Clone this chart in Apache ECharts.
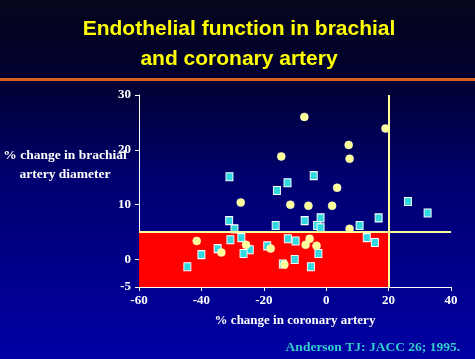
<!DOCTYPE html>
<html><head><meta charset="utf-8">
<script src="https://cdn.jsdelivr.net/npm/echarts@6/dist/echarts.min.js"></script>
<style>html,body{margin:0;padding:0;background:#000030;}#c{width:475px;height:359px;}</style>
</head><body><div id="c"></div>
<script>
// Data
var titleLines = ['Endothelial function in brachial', 'and coronary artery'];
var xTicks = [-60, -40, -20, 0, 20, 40];
var yTicks = [-5, 0, 10, 20, 30];
// yellow circles: [% change coronary, % change brachial]
var circles = [
  [-7, 26.0], [19, 23.9], [-14.4, 18.8], [7.2, 20.9], [7.5, 18.4], [3.5, 13.1],
  [-11.5, 10.0], [-5.7, 9.8], [1.9, 9.8], [7.5, 5.6], [-27.4, 10.4],
  [-41.5, 3.4], [-33.6, 1.3], [-25.7, 2.7], [-17.8, 2.0], [-5.3, 3.8],
  [-6.6, 2.7], [-3.1, 2.5], [-13.4, -0.9]
];
// cyan squares
var squares = [
  [-31.0, 15.1], [-31.1, 7.1], [-29.4, 5.6], [-30.7, 3.6], [-27.2, 4.0], [-34.8, 2.0],
  [-24.5, 1.8], [-40.0, 0.9], [-26.5, 1.1], [-44.5, -1.3], [-18.9, 2.5], [-16.2, 6.2],
  [-15.8, 12.6], [-12.4, 14.0], [-12.3, 3.8], [-9.8, 3.4], [-13.9, -0.8], [-10.1, 0.0],
  [-4.0, 15.3], [26.2, 10.6], [32.5, 8.5], [-1.8, 7.6], [-6.9, 7.1], [-2.9, 6.2],
  [-1.8, 5.8], [10.7, 6.2], [16.8, 7.6], [13.0, 4.0], [15.6, 3.1], [-2.5, 1.1], [-4.9, -1.3]
];
var normalBox = {x0: -60, x1: 20, y0: -5, y1: 5};
var xName = '% change in coronary artery';
var yName = ['% change in brachial', 'artery diameter'];
var citation = 'Anderson TJ: JACC 26; 1995.';

var serif = '"Liberation Serif", "Times New Roman", serif';
var sans = '"Liberation Sans", Arial, sans-serif';
var chart = echarts.init(document.getElementById('c'));
chart.setOption({
  animation: false,
  backgroundColor: {
    type: 'linear', x: 0, y: 0, x2: 0, y2: 1,
    colorStops: [
      {offset: 0, color: '#06061c'},
      {offset: 0.22, color: '#000030'},
      {offset: 0.5, color: '#000070'},
      {offset: 1, color: '#0000a4'}
    ]
  },
  grid: {left: 139, right: 24, top: 95, bottom: 72},
  xAxis: {
    type: 'value', min: xTicks[0], max: xTicks[xTicks.length - 1], interval: 20,
    splitLine: {show: false},
    axisLine: {onZero: false, lineStyle: {color: '#ffffff', width: 1}},
    axisTick: {length: 4, lineStyle: {color: '#ffffff'}},
    axisLabel: {color: '#ffffff', fontFamily: serif, fontWeight: 'bold', fontSize: 13, margin: 7}
  },
  yAxis: {
    type: 'value', min: yTicks[0], max: yTicks[yTicks.length - 1],
    splitLine: {show: false},
    axisLine: {show: true, onZero: false, lineStyle: {color: '#ffffff', width: 1}},
    axisTick: {show: true, length: 4, customValues: yTicks, lineStyle: {color: '#ffffff'}},
    axisLabel: {color: '#ffffff', fontFamily: serif, fontWeight: 'bold', fontSize: 13, margin: 8, customValues: yTicks}
  },
  series: [
    {
      type: 'scatter', data: [], z: 1,
      markArea: {
        silent: true,
        itemStyle: {color: '#ff0000'},
        data: [[{coord: [normalBox.x0, normalBox.y0]}, {coord: [normalBox.x1, normalBox.y1]}]]
      },
      markLine: {
        silent: true, symbol: 'none', label: {show: false},
        data: [
          [{coord: [normalBox.x0, normalBox.y1]}, {coord: [xTicks[xTicks.length - 1], normalBox.y1]}],
          [{coord: [normalBox.x1, normalBox.y0]}, {coord: [normalBox.x1, yTicks[yTicks.length - 1]]}]
        ],
        lineStyle: {color: '#ffff99', width: 2, type: 'solid'}
      }
    },
    {
      type: 'scatter', data: squares, z: 3, symbol: 'rect', symbolSize: [7, 8],
      itemStyle: {color: '#30d8e0', borderColor: '#ffffff', borderWidth: 1, opacity: 1}
    },
    {
      type: 'scatter', data: circles, z: 4, symbol: 'circle', symbolSize: 8,
      itemStyle: {color: '#ffff99', borderColor: '#ffffe0', borderWidth: 0.5, opacity: 1}
    }
  ],
  graphic: [
    {type: 'text', x: 239, y: 14, style: {text: titleLines.join('\n'), fill: '#ffff00', font: 'bold 21px ' + sans, align: 'center', lineHeight: 30}},
    {type: 'rect', left: 0, top: 78, shape: {width: 475, height: 3}, style: {fill: '#d8601c'}},
    {type: 'text', x: 65, y: 146, style: {text: yName.join('\n'), fill: '#ffffff', font: 'bold 13.5px ' + serif, align: 'center', lineHeight: 19}},
    {type: 'text', x: 295, y: 314, style: {text: xName, fill: '#ffffff', font: 'bold 13px ' + serif, align: 'center'}},
    {type: 'text', x: 460, y: 341, style: {text: citation, fill: '#33cccc', font: 'bold 13.5px ' + serif, align: 'right'}}
  ]
});
</script></body></html>
